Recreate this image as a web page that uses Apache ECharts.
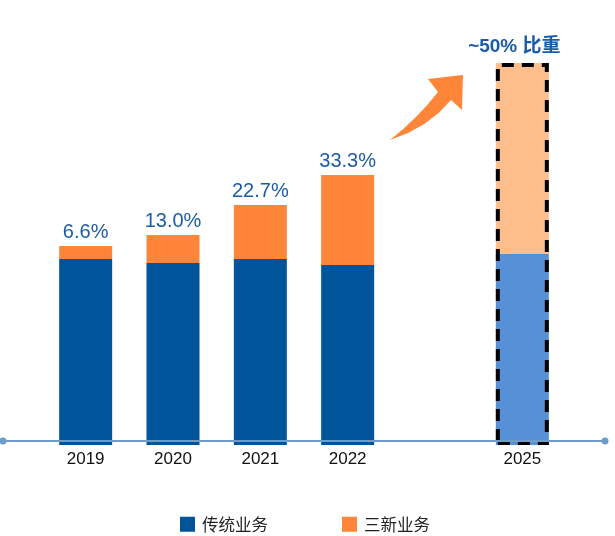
<!DOCTYPE html>
<html>
<head>
<meta charset="utf-8">
<script src="https://cdn.jsdelivr.net/npm/echarts@6/dist/echarts.min.js"></script>
<style>html,body{margin:0;padding:0;background:#fff;}#c{width:615px;height:536px;}</style>
</head>
<body>
<div id="c"></div>
<script>
var categories = ['2019', '2020', '2021', '2022', '', '2025'];
var traditional = [186, 182, 186, 180, null, 191];
var newBiz = [13, 28, 54, 90, null, 191];
var shareLabels = ['6.6%', '13.0%', '22.7%', '33.3%', '', '~50% 比重'];
var seriesNames = ['传统业务', '三新业务'];

var FONT = '"Liberation Sans", "Noto Sans CJK SC", sans-serif';
var chart = echarts.init(document.getElementById('c'));

var tradData = traditional.map(function (v, i) {
  if (v === null) return null;
  if (i === 5) return { value: v, itemStyle: { color: '#5690D7' } };
  return v;
});
var newData = newBiz.map(function (v, i) {
  if (v === null) return null;
  if (i === 5) return { value: v, itemStyle: { color: '#FDBE8B' } };
  return v;
});
var totals = traditional.map(function (v, i) {
  if (v === null) return null;
  var d = { value: v + newBiz[i], itemStyle: { borderColor: i === 5 ? '#000' : 'transparent', borderWidth: i === 5 ? 4 : 0 } };
  if (i === 5) d.label = { fontWeight: 'bold', color: '#1A5CA5', distance: 7, fontSize: 19, offset: [-8, 0] };
  return d;
});

chart.setOption({
  animation: false,
  backgroundColor: '#fff',
  grid: { left: 42, right: 49, top: 41, bottom: 91 },
  legend: {
    data: seriesNames,
    left: 175, top: 511,
    itemWidth: 15, itemHeight: 15, itemGap: 74,
    icon: 'rect',
    textStyle: { fontSize: 16.5, color: '#222', padding: [0, 0, 0, 2], fontFamily: '"Noto Sans CJK SC", sans-serif' }
  },
  xAxis: {
    type: 'category',
    data: categories,
    axisLine: { show: false },
    axisTick: { show: false },
    axisLabel: { fontSize: 17, color: '#111', margin: 6, fontFamily: FONT }
  },
  yAxis: {
    type: 'value', min: 0, max: 404,
    show: false, splitLine: { show: false }
  },
  series: [
    {
      name: seriesNames[0], type: 'bar', stack: 'a', barWidth: 53,
      itemStyle: { color: '#00549A' }, data: tradData
    },
    {
      name: seriesNames[1], type: 'bar', stack: 'a', barWidth: 53,
      itemStyle: { color: '#FF8638' }, data: newData
    },
    {
      name: 'outline', type: 'bar', barWidth: 53, barGap: '-100%', z: 5,
      itemStyle: { color: 'rgba(0,0,0,0)', borderType: [12, 8] },
      label: {
        show: true, position: 'top', distance: 4,
        formatter: function (p) { return shareLabels[p.dataIndex]; },
        fontSize: 20, color: '#1C5DA6', fontFamily: FONT
      },
      data: totals
    }
  ],
  graphic: [
    { type: 'line', shape: { x1: 3, y1: 441, x2: 605, y2: 441 }, style: { stroke: '#6E9CC7', lineWidth: 2 }, z: 10 },
    { type: 'circle', shape: { cx: 3, cy: 441, r: 3.5 }, style: { fill: '#6E9CC7' }, z: 10 },
    { type: 'circle', shape: { cx: 605, cy: 441, r: 3.5 }, style: { fill: '#6E9CC7' }, z: 10 },
    {
      type: 'polygon', z: 10,
      shape: { points: [[390, 140], [403.5, 128.8], [416, 117], [427.5, 104.8], [438, 92], [428, 79], [463, 75], [462, 110], [451, 100], [438.6, 113], [424.3, 124], [408, 133]] },
      style: { fill: '#FF8638' }
    }
  ]
});
</script>
</body>
</html>
